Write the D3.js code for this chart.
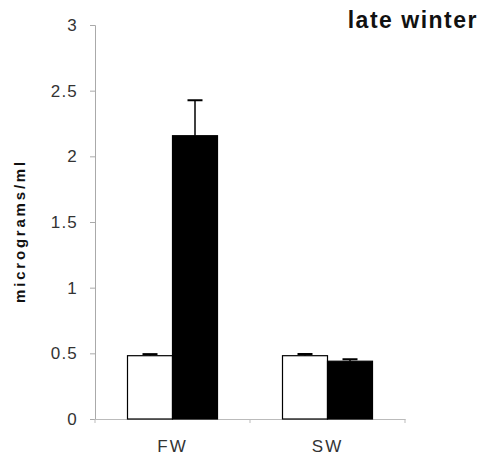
<!DOCTYPE html>
<html><head><meta charset="utf-8">
<script src="https://cdn.jsdelivr.net/npm/d3@7"></script>
<style>body{margin:0;background:#fff}svg{display:block}</style>
</head><body>
<svg id="c" width="486" height="459"></svg>
<script>
const categories = ["FW", "SW"];
const series = ["control", "treated"];
const controlValues = [0.482, 0.482];
const controlErrors = [0.012, 0.013];
const treatedValues = [2.157, 0.44];
const treatedErrors = [0.27, 0.015];
const yTicks = [0, 0.5, 1, 1.5, 2, 2.5, 3];
const yTickLabels = ["0", "0.5", "1", "1.5", "2", "2.5", "3"];

const svg = d3.select("#c");
const FONT = "Liberation Sans, Arial, sans-serif";
const x0 = 95, x1 = 405, yTop = 25, yBot = 419;
const x = d3.scaleBand().domain(categories).range([x0, x1]).paddingInner(0).paddingOuter(0);
const xs = d3.scaleBand().domain(series).range([0, 90]);
const y = d3.scaleLinear().domain([0, 3]).range([yBot, yTop]);

const data = [];
categories.forEach((c, i) => {
  data.push({c, s: "control", v: controlValues[i], e: controlErrors[i]});
  data.push({c, s: "treated", v: treatedValues[i], e: treatedErrors[i]});
});
const off = (x.bandwidth() - 90) / 2;

// axes
const yAxis = svg.append("g").attr("transform", `translate(${x0},0)`)
  .call(d3.axisLeft(y).tickValues(yTicks).tickFormat((d, i) => yTickLabels[i]).tickSize(5).tickPadding(12));
yAxis.select(".domain").attr("stroke", "#aaa");
yAxis.selectAll(".tick line").attr("stroke", "#aaa");
yAxis.selectAll("text").attr("font-family", FONT).attr("font-size", 17).attr("letter-spacing", 1.2).attr("fill", "#333");

const xAxis = svg.append("g").attr("transform", `translate(0,${yBot})`)
  .call(d3.axisBottom(x).tickSize(0).tickPadding(21).tickSizeOuter(0));
xAxis.select(".domain").attr("stroke", "#bbb");
xAxis.selectAll("text").attr("font-family", FONT).attr("font-size", 17).attr("letter-spacing", 2).attr("fill", "#333");
[x0, x0 + x.bandwidth(), x1].forEach(t => {
  svg.append("line").attr("x1", t).attr("x2", t).attr("y1", yBot).attr("y2", yBot + 4).attr("stroke", "#bbb");
});

// error bars
const eb = svg.append("g");
data.forEach(d => {
  const cx = x(d.c) + off + xs(d.s) + xs.bandwidth() / 2;
  eb.append("line").attr("x1", cx).attr("x2", cx).attr("y1", y(d.v)).attr("y2", y(d.v + d.e)).attr("stroke", "#000").attr("stroke-width", 1.5);
  eb.append("line").attr("x1", cx - 7.5).attr("x2", cx + 7.5).attr("y1", y(d.v + d.e)).attr("y2", y(d.v + d.e)).attr("stroke", "#000").attr("stroke-width", 2);
});

// bars
svg.append("g").selectAll("rect").data(data).join("rect")
  .attr("x", d => x(d.c) + off + xs(d.s))
  .attr("y", d => y(d.v))
  .attr("width", xs.bandwidth())
  .attr("height", d => yBot - y(d.v))
  .attr("fill", d => d.s === "control" ? "#fff" : "#000")
  .attr("stroke", "#000").attr("stroke-width", 1.2);

svg.append("text").attr("transform", "translate(25,231) rotate(-90)")
  .attr("text-anchor", "middle").attr("font-family", FONT)
  .attr("font-weight", "bold").attr("font-size", 15).attr("letter-spacing", 2.8).attr("fill", "#111")
  .text("micrograms/ml");

svg.append("text").attr("x", 478).attr("y", 28).attr("text-anchor", "end")
  .attr("font-family", FONT).attr("font-weight", "bold")
  .attr("font-size", 23).attr("letter-spacing", 1.5).attr("fill", "#111").text("late winter");
</script>
</body></html>
